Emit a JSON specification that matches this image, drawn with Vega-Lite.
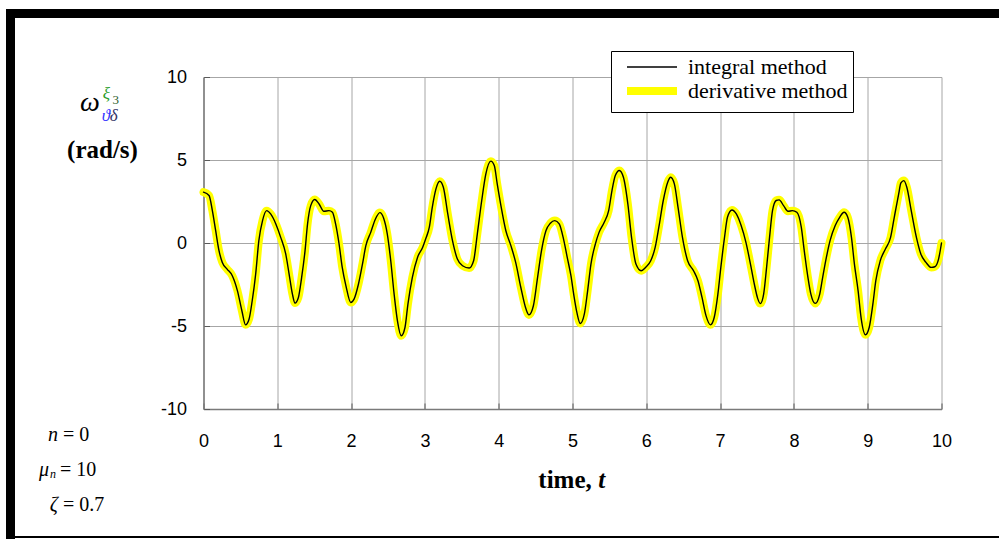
{
  "$schema": "https://vega.github.io/schema/vega-lite/v6.json",
  "padding": {"left": 5, "top": 8, "right": 0, "bottom": 0},
  "background": "white",
  "config": {"view": {"stroke": null}, "font": "Liberation Sans"},
  "bounds": "flush",
  "spacing": 0,
  "hconcat": [
    {
      "width": 9, "height": 531,
      "view": {"fill": "black", "stroke": null},
      "data": {"values": [{}]},
      "mark": {"type": "rule", "opacity": 0},
      "encoding": {}
    },
    {
      "bounds": "flush",
      "spacing": 188.5,
      "hconcat": [
        {
          "bounds": "flush",
          "spacing": 518,
          "vconcat": [
            {
              "width": 192, "height": 9,
              "view": {"fill": "black", "stroke": null},
              "data": {"values": [{}]},
              "mark": {"type": "rule", "opacity": 0},
              "encoding": {}
            },
            {
              "width": 192, "height": 2,
              "view": {"fill": "black", "stroke": null},
              "data": {"values": [{}]},
              "mark": {"type": "rule", "opacity": 0},
              "encoding": {}
            }
          ]
        },
        {
          "bounds": "flush",
          "spacing": 59,
          "vconcat": [
            {
              "width": 796.5, "height": 9,
              "view": {"fill": "black", "stroke": null},
              "data": {"values": [{}]},
              "mark": {"type": "rule", "opacity": 0},
              "encoding": {}
            },
            {
              "bounds": "flush",
              "spacing": 127,
              "vconcat": [
                {
                  "width": 738, "height": 332,
                  "view": {"stroke": null},
                  "layer": [
                    {
                      "data": {"values": [
                        {"t":0.0,"integral":3.06,"derivative":3.06},
                        {"t":0.075,"integral":2.86,"derivative":2.86},
                        {"t":0.12,"integral":1.95,"derivative":1.95},
                        {"t":0.165,"integral":0.74,"derivative":0.74},
                        {"t":0.21,"integral":-0.46,"derivative":-0.46},
                        {"t":0.255,"integral":-1.17,"derivative":-1.17},
                        {"t":0.32,"integral":-1.57,"derivative":-1.57},
                        {"t":0.39,"integral":-1.97,"derivative":-1.97},
                        {"t":0.46,"integral":-2.88,"derivative":-2.88},
                        {"t":0.52,"integral":-4.08,"derivative":-4.08},
                        {"t":0.57,"integral":-4.93,"derivative":-4.93},
                        {"t":0.617,"integral":-4.59,"derivative":-4.59},
                        {"t":0.66,"integral":-3.48,"derivative":-3.48},
                        {"t":0.707,"integral":-1.87,"derivative":-1.87},
                        {"t":0.75,"integral":0.14,"derivative":0.14},
                        {"t":0.8,"integral":1.35,"derivative":1.35},
                        {"t":0.856,"integral":1.95,"derivative":1.95},
                        {"t":0.91,"integral":1.75,"derivative":1.75},
                        {"t":0.98,"integral":1.15,"derivative":1.15},
                        {"t":1.046,"integral":0.34,"derivative":0.34},
                        {"t":1.114,"integral":-0.66,"derivative":-0.66},
                        {"t":1.16,"integral":-1.87,"derivative":-1.87},
                        {"t":1.205,"integral":-3.08,"derivative":-3.08},
                        {"t":1.24,"integral":-3.62,"derivative":-3.62},
                        {"t":1.286,"integral":-3.28,"derivative":-3.28},
                        {"t":1.33,"integral":-2.07,"derivative":-2.07},
                        {"t":1.376,"integral":-0.46,"derivative":-0.46},
                        {"t":1.41,"integral":1.15,"derivative":1.15},
                        {"t":1.453,"integral":2.25,"derivative":2.25},
                        {"t":1.507,"integral":2.62,"derivative":2.62},
                        {"t":1.566,"integral":2.35,"derivative":2.35},
                        {"t":1.63,"integral":1.91,"derivative":1.91},
                        {"t":1.7,"integral":1.95,"derivative":1.95},
                        {"t":1.747,"integral":1.85,"derivative":1.85},
                        {"t":1.79,"integral":1.15,"derivative":1.15},
                        {"t":1.837,"integral":-0.06,"derivative":-0.06},
                        {"t":1.88,"integral":-1.47,"derivative":-1.47},
                        {"t":1.93,"integral":-2.58,"derivative":-2.58},
                        {"t":1.995,"integral":-3.58,"derivative":-3.58},
                        {"t":2.04,"integral":-3.38,"derivative":-3.38},
                        {"t":2.1,"integral":-2.47,"derivative":-2.47},
                        {"t":2.154,"integral":-1.27,"derivative":-1.27},
                        {"t":2.2,"integral":-0.16,"derivative":-0.16},
                        {"t":2.266,"integral":0.64,"derivative":0.64},
                        {"t":2.33,"integral":1.45,"derivative":1.45},
                        {"t":2.39,"integral":1.83,"derivative":1.83},
                        {"t":2.44,"integral":1.5,"derivative":1.5},
                        {"t":2.49,"integral":0.55,"derivative":0.55},
                        {"t":2.538,"integral":-1.1,"derivative":-1.1},
                        {"t":2.583,"integral":-3.08,"derivative":-3.08},
                        {"t":2.628,"integral":-4.69,"derivative":-4.69},
                        {"t":2.68,"integral":-5.59,"derivative":-5.59},
                        {"t":2.73,"integral":-5.09,"derivative":-5.09},
                        {"t":2.77,"integral":-3.68,"derivative":-3.68},
                        {"t":2.83,"integral":-2.07,"derivative":-2.07},
                        {"t":2.9,"integral":-0.87,"derivative":-0.87},
                        {"t":2.97,"integral":-0.26,"derivative":-0.26},
                        {"t":3.01,"integral":0.24,"derivative":0.24},
                        {"t":3.06,"integral":0.95,"derivative":0.95},
                        {"t":3.1,"integral":2.15,"derivative":2.15},
                        {"t":3.15,"integral":3.26,"derivative":3.26},
                        {"t":3.2,"integral":3.72,"derivative":3.72},
                        {"t":3.25,"integral":3.36,"derivative":3.36},
                        {"t":3.31,"integral":1.75,"derivative":1.75},
                        {"t":3.374,"integral":0.14,"derivative":0.14},
                        {"t":3.44,"integral":-0.97,"derivative":-0.97},
                        {"t":3.51,"integral":-1.37,"derivative":-1.37},
                        {"t":3.6,"integral":-1.51,"derivative":-1.51},
                        {"t":3.66,"integral":-1.07,"derivative":-1.07},
                        {"t":3.71,"integral":0.54,"derivative":0.54},
                        {"t":3.77,"integral":2.56,"derivative":2.56},
                        {"t":3.826,"integral":4.16,"derivative":4.16},
                        {"t":3.894,"integral":4.93,"derivative":4.93},
                        {"t":3.94,"integral":4.67,"derivative":4.67},
                        {"t":3.98,"integral":3.56,"derivative":3.56},
                        {"t":4.03,"integral":2.25,"derivative":2.25},
                        {"t":4.097,"integral":0.74,"derivative":0.74},
                        {"t":4.165,"integral":-0.16,"derivative":-0.16},
                        {"t":4.23,"integral":-1.17,"derivative":-1.17},
                        {"t":4.3,"integral":-2.68,"derivative":-2.68},
                        {"t":4.37,"integral":-3.98,"derivative":-3.98},
                        {"t":4.41,"integral":-4.33,"derivative":-4.33},
                        {"t":4.47,"integral":-3.78,"derivative":-3.78},
                        {"t":4.527,"integral":-2.07,"derivative":-2.07},
                        {"t":4.58,"integral":-0.46,"derivative":-0.46},
                        {"t":4.64,"integral":0.74,"derivative":0.74},
                        {"t":4.7,"integral":1.19,"derivative":1.19},
                        {"t":4.76,"integral":1.35,"derivative":1.35},
                        {"t":4.82,"integral":1.15,"derivative":1.15},
                        {"t":4.88,"integral":0.2,"derivative":0.2},
                        {"t":4.93,"integral":-0.9,"derivative":-0.9},
                        {"t":4.98,"integral":-2.0,"derivative":-2.0},
                        {"t":5.02,"integral":-3.2,"derivative":-3.2},
                        {"t":5.06,"integral":-4.2,"derivative":-4.2},
                        {"t":5.105,"integral":-4.85,"derivative":-4.85},
                        {"t":5.16,"integral":-4.29,"derivative":-4.29},
                        {"t":5.205,"integral":-2.88,"derivative":-2.88},
                        {"t":5.25,"integral":-1.27,"derivative":-1.27},
                        {"t":5.31,"integral":-0.06,"derivative":-0.06},
                        {"t":5.36,"integral":0.64,"derivative":0.64},
                        {"t":5.43,"integral":1.25,"derivative":1.25},
                        {"t":5.49,"integral":1.95,"derivative":1.95},
                        {"t":5.535,"integral":3.16,"derivative":3.16},
                        {"t":5.58,"integral":4.06,"derivative":4.06},
                        {"t":5.634,"integral":4.37,"derivative":4.37},
                        {"t":5.69,"integral":3.96,"derivative":3.96},
                        {"t":5.75,"integral":2.35,"derivative":2.35},
                        {"t":5.8,"integral":0.34,"derivative":0.34},
                        {"t":5.86,"integral":-1.27,"derivative":-1.27},
                        {"t":5.93,"integral":-1.67,"derivative":-1.67},
                        {"t":5.99,"integral":-1.47,"derivative":-1.47},
                        {"t":6.06,"integral":-1.07,"derivative":-1.07},
                        {"t":6.12,"integral":-0.26,"derivative":-0.26},
                        {"t":6.17,"integral":0.95,"derivative":0.95},
                        {"t":6.23,"integral":2.56,"derivative":2.56},
                        {"t":6.29,"integral":3.66,"derivative":3.66},
                        {"t":6.33,"integral":3.96,"derivative":3.96},
                        {"t":6.38,"integral":3.56,"derivative":3.56},
                        {"t":6.43,"integral":2.15,"derivative":2.15},
                        {"t":6.49,"integral":0.34,"derivative":0.34},
                        {"t":6.56,"integral":-1.07,"derivative":-1.07},
                        {"t":6.64,"integral":-1.67,"derivative":-1.67},
                        {"t":6.7,"integral":-2.27,"derivative":-2.27},
                        {"t":6.755,"integral":-3.28,"derivative":-3.28},
                        {"t":6.81,"integral":-4.39,"derivative":-4.39},
                        {"t":6.87,"integral":-4.93,"derivative":-4.93},
                        {"t":6.92,"integral":-4.49,"derivative":-4.49},
                        {"t":6.97,"integral":-3.08,"derivative":-3.08},
                        {"t":7.01,"integral":-1.47,"derivative":-1.47},
                        {"t":7.06,"integral":0.34,"derivative":0.34},
                        {"t":7.1,"integral":1.55,"derivative":1.55},
                        {"t":7.16,"integral":1.99,"derivative":1.99},
                        {"t":7.22,"integral":1.75,"derivative":1.75},
                        {"t":7.285,"integral":1.05,"derivative":1.05},
                        {"t":7.35,"integral":0.04,"derivative":0.04},
                        {"t":7.42,"integral":-1.47,"derivative":-1.47},
                        {"t":7.465,"integral":-2.5,"derivative":-2.5},
                        {"t":7.51,"integral":-3.35,"derivative":-3.35},
                        {"t":7.545,"integral":-3.65,"derivative":-3.65},
                        {"t":7.59,"integral":-3.08,"derivative":-3.08},
                        {"t":7.63,"integral":-1.47,"derivative":-1.47},
                        {"t":7.67,"integral":0.34,"derivative":0.34},
                        {"t":7.71,"integral":1.95,"derivative":1.95},
                        {"t":7.76,"integral":2.56,"derivative":2.56},
                        {"t":7.8,"integral":2.6,"derivative":2.6},
                        {"t":7.86,"integral":2.25,"derivative":2.25},
                        {"t":7.92,"integral":1.91,"derivative":1.91},
                        {"t":7.98,"integral":1.95,"derivative":1.95},
                        {"t":8.04,"integral":1.85,"derivative":1.85},
                        {"t":8.1,"integral":0.95,"derivative":0.95},
                        {"t":8.14,"integral":-0.46,"derivative":-0.46},
                        {"t":8.19,"integral":-2.07,"derivative":-2.07},
                        {"t":8.23,"integral":-3.08,"derivative":-3.08},
                        {"t":8.29,"integral":-3.64,"derivative":-3.64},
                        {"t":8.35,"integral":-3.08,"derivative":-3.08},
                        {"t":8.39,"integral":-2.07,"derivative":-2.07},
                        {"t":8.44,"integral":-0.87,"derivative":-0.87},
                        {"t":8.49,"integral":0.14,"derivative":0.14},
                        {"t":8.56,"integral":1.05,"derivative":1.05},
                        {"t":8.62,"integral":1.55,"derivative":1.55},
                        {"t":8.68,"integral":1.85,"derivative":1.85},
                        {"t":8.73,"integral":1.55,"derivative":1.55},
                        {"t":8.78,"integral":0.34,"derivative":0.34},
                        {"t":8.82,"integral":-1.27,"derivative":-1.27},
                        {"t":8.87,"integral":-2.88,"derivative":-2.88},
                        {"t":8.91,"integral":-4.49,"derivative":-4.49},
                        {"t":8.97,"integral":-5.53,"derivative":-5.53},
                        {"t":9.02,"integral":-5.09,"derivative":-5.09},
                        {"t":9.07,"integral":-3.68,"derivative":-3.68},
                        {"t":9.11,"integral":-2.27,"derivative":-2.27},
                        {"t":9.17,"integral":-1.07,"derivative":-1.07},
                        {"t":9.24,"integral":-0.36,"derivative":-0.36},
                        {"t":9.31,"integral":0.34,"derivative":0.34},
                        {"t":9.36,"integral":1.55,"derivative":1.55},
                        {"t":9.42,"integral":2.96,"derivative":2.96},
                        {"t":9.45,"integral":3.62,"derivative":3.62},
                        {"t":9.49,"integral":3.76,"derivative":3.76},
                        {"t":9.53,"integral":3.36,"derivative":3.36},
                        {"t":9.59,"integral":1.95,"derivative":1.95},
                        {"t":9.66,"integral":0.34,"derivative":0.34},
                        {"t":9.72,"integral":-0.66,"derivative":-0.66},
                        {"t":9.79,"integral":-1.17,"derivative":-1.17},
                        {"t":9.86,"integral":-1.47,"derivative":-1.47},
                        {"t":9.91,"integral":-1.43,"derivative":-1.43},
                        {"t":9.96,"integral":-0.97,"derivative":-0.97},
                        {"t":10.0,"integral":0.0,"derivative":0.0}
                      ]},
                      "transform": [{"fold": ["derivative", "integral"], "as": ["method", "value"]}],
                      "mark": {"type": "line", "interpolate": "monotone", "strokeCap": "round", "strokeJoin": "round"},
                      "encoding": {
                        "x": {
                          "field": "t", "type": "quantitative",
                          "scale": {"domain": [0, 10], "nice": false, "zero": false},
                          "axis": {
                            "values": [0,1,2,3,4,5,6,7,8,9,10],
                            "format": "d",
                            "title": null,
                            "grid": true, "gridColor": "#a6a6a6", "gridWidth": 1,
                            "domainColor": "#7a7a7a", "domainWidth": 1.5,
                            "tickColor": "#5a5a5a", "tickSize": -6, "tickWidth": 1,
                            "labelFont": "Liberation Sans", "labelFontSize": 18, "labelColor": "black",
                            "labelPadding": 29, "labelFlush": false
                          }
                        },
                        "y": {
                          "field": "value", "type": "quantitative",
                          "scale": {"domain": [-10, 10], "nice": false, "zero": false},
                          "axis": {
                            "values": [-10, -5, 0, 5, 10],
                            "labelExpr": "'' + datum.value",
                            "title": null,
                            "grid": true, "gridColor": "#a6a6a6", "gridWidth": 1,
                            "domainColor": "#7a7a7a", "domainWidth": 1.5,
                            "tickColor": "#5a5a5a", "tickSize": -6, "tickWidth": 1,
                            "labelFont": "Liberation Sans", "labelFontSize": 18, "labelColor": "black",
                            "labelPadding": 23, "labelFlush": false
                          }
                        },
                        "color": {
                          "field": "method", "type": "nominal",
                          "scale": {"domain": ["integral", "derivative"], "range": ["#000000", "#ffff00"]},
                          "legend": {
                            "title": null, "orient": "none", "legendX": 605, "legendY": 42,
                            "symbolType": "M-3.125,0H3.125", "symbolSize": 256,
                            "labelFont": "Liberation Serif", "labelFontSize": 22, "labelColor": "black",
                            "labelExpr": "datum.label + ' method'",
                            "labelOffset": 24, "padding": 5, "symbolOffset": 24, "rowPadding": -3,
                            "strokeColor": "black", "fillColor": "white"
                          }
                        },
                        "strokeWidth": {
                          "field": "method", "type": "nominal",
                          "scale": {"domain": ["integral", "derivative"], "range": [1.4, 8]},
                          "legend": {
                            "title": null, "orient": "none", "legendX": 605, "legendY": 42,
                            "symbolType": "M-3.125,0H3.125", "symbolSize": 256,
                            "labelFont": "Liberation Serif", "labelFontSize": 22, "labelColor": "black",
                            "labelExpr": "datum.label + ' method'",
                            "labelOffset": 24, "padding": 5, "symbolOffset": 24, "rowPadding": -3,
                            "strokeColor": "black", "fillColor": "white"
                          }
                        }
                      }
                    },
                    {
                      "data": {"values": [{}]},
                      "mark": {"type": "text", "text": "ω", "font": "Liberation Serif", "fontStyle": "italic", "fontSize": 28, "align": "center", "baseline": "alphabetic", "color": "black"},
                      "encoding": {"x": {"datum": -1.538, "type": "quantitative"}, "y": {"datum": 7.952, "type": "quantitative"}}
                    },
                    {
                      "data": {"values": [{}]},
                      "mark": {"type": "text", "text": "ξ", "font": "Liberation Serif", "fontStyle": "italic", "fontSize": 17, "align": "left", "baseline": "alphabetic", "color": "#2a9d2a"},
                      "encoding": {"x": {"datum": -1.365, "type": "quantitative"}, "y": {"datum": 8.7, "type": "quantitative"}}
                    },
                    {
                      "data": {"values": [{}]},
                      "mark": {"type": "text", "text": "3", "font": "Liberation Serif", "fontSize": 13, "align": "left", "baseline": "alphabetic", "color": "#2b5e2b"},
                      "encoding": {"x": {"datum": -1.233, "type": "quantitative"}, "y": {"datum": 8.4, "type": "quantitative"}}
                    },
                    {
                      "data": {"values": [{}]},
                      "mark": {"type": "text", "text": "ϑ", "font": "Liberation Serif", "fontStyle": "italic", "fontSize": 17, "align": "left", "baseline": "alphabetic", "color": "#3333ff"},
                      "encoding": {"x": {"datum": -1.38, "type": "quantitative"}, "y": {"datum": 7.35, "type": "quantitative"}}
                    },
                    {
                      "data": {"values": [{}]},
                      "mark": {"type": "text", "text": "δ", "font": "Liberation Serif", "fontStyle": "italic", "fontSize": 17, "align": "left", "baseline": "alphabetic", "color": "#333366"},
                      "encoding": {"x": {"datum": -1.27, "type": "quantitative"}, "y": {"datum": 7.35, "type": "quantitative"}}
                    },
                    {
                      "data": {"values": [{}]},
                      "mark": {"type": "text", "text": "(rad/s)", "font": "Liberation Serif", "fontWeight": "bold", "fontSize": 25, "align": "center", "baseline": "middle", "color": "black"},
                      "encoding": {"x": {"datum": -1.369, "type": "quantitative"}, "y": {"datum": 5.602, "type": "quantitative"}}
                    },
                    {
                      "data": {"values": [{}]},
                      "mark": {"type": "text", "text": "time, ", "font": "Liberation Serif", "fontWeight": "bold", "fontSize": 25, "align": "left", "baseline": "alphabetic", "color": "black"},
                      "encoding": {"x": {"datum": 4.537, "type": "quantitative"}, "y": {"datum": -14.759, "type": "quantitative"}}
                    },
                    {
                      "data": {"values": [{}]},
                      "mark": {"type": "text", "text": "t", "font": "Liberation Serif", "fontWeight": "bold", "fontStyle": "italic", "fontSize": 25, "align": "left", "baseline": "alphabetic", "color": "black"},
                      "encoding": {"x": {"datum": 5.35, "type": "quantitative"}, "y": {"datum": -14.759, "type": "quantitative"}}
                    },
                    {
                      "data": {"values": [{}]},
                      "mark": {"type": "text", "text": "n", "font": "Liberation Serif", "fontStyle": "italic", "fontSize": 20, "align": "right", "baseline": "alphabetic", "color": "black"},
                      "encoding": {"x": {"datum": -1.972, "type": "quantitative"}, "y": {"datum": -11.928, "type": "quantitative"}}
                    },
                    {
                      "data": {"values": [{}]},
                      "mark": {"type": "text", "text": "= 0", "font": "Liberation Serif", "fontSize": 20, "align": "left", "baseline": "alphabetic", "color": "black"},
                      "encoding": {"x": {"datum": -1.904, "type": "quantitative"}, "y": {"datum": -11.928, "type": "quantitative"}}
                    },
                    {
                      "data": {"values": [{}]},
                      "mark": {"type": "text", "text": "μ", "font": "Liberation Serif", "fontStyle": "italic", "fontSize": 20, "align": "right", "baseline": "alphabetic", "color": "black"},
                      "encoding": {"x": {"datum": -2.093, "type": "quantitative"}, "y": {"datum": -14.036, "type": "quantitative"}}
                    },
                    {
                      "data": {"values": [{}]},
                      "mark": {"type": "text", "text": "n", "font": "Liberation Serif", "fontStyle": "italic", "fontSize": 12, "align": "left", "baseline": "alphabetic", "color": "black"},
                      "encoding": {"x": {"datum": -2.08, "type": "quantitative"}, "y": {"datum": -14.157, "type": "quantitative"}}
                    },
                    {
                      "data": {"values": [{}]},
                      "mark": {"type": "text", "text": "= 10", "font": "Liberation Serif", "fontSize": 20, "align": "left", "baseline": "alphabetic", "color": "black"},
                      "encoding": {"x": {"datum": -1.944, "type": "quantitative"}, "y": {"datum": -14.036, "type": "quantitative"}}
                    },
                    {
                      "data": {"values": [{}]},
                      "mark": {"type": "text", "text": "ζ", "font": "Liberation Serif", "fontStyle": "italic", "fontSize": 20, "align": "right", "baseline": "alphabetic", "color": "black"},
                      "encoding": {"x": {"datum": -1.972, "type": "quantitative"}, "y": {"datum": -16.145, "type": "quantitative"}}
                    },
                    {
                      "data": {"values": [{}]},
                      "mark": {"type": "text", "text": "= 0.7", "font": "Liberation Serif", "fontSize": 20, "align": "left", "baseline": "alphabetic", "color": "black"},
                      "encoding": {"x": {"datum": -1.904, "type": "quantitative"}, "y": {"datum": -16.145, "type": "quantitative"}}
                    }
                  ]
                },
                {
                  "width": 796.5, "height": 2,
                  "view": {"fill": "black", "stroke": null},
                  "data": {"values": [{}]},
                  "mark": {"type": "rule", "opacity": 0},
                  "encoding": {}
                }
              ]
            }
          ]
        }
      ]
    }
  ]
}
